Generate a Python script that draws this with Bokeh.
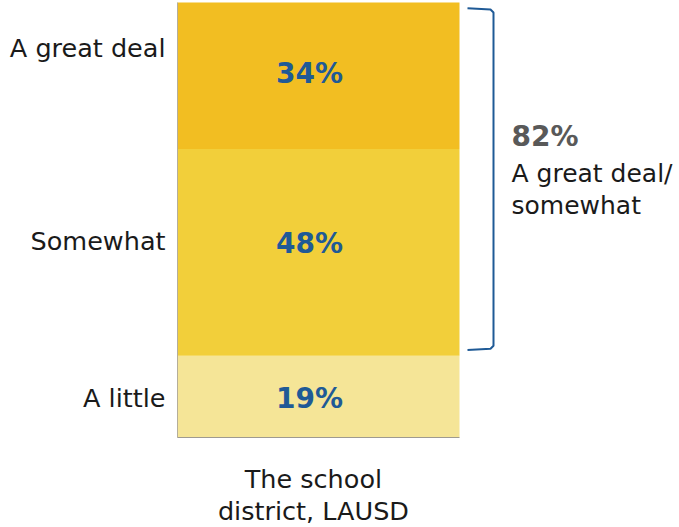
from bokeh.plotting import figure
from bokeh.models import Range1d, ColumnDataSource
from bokeh.embed import file_html
from bokeh.resources import INLINE
from bokeh.core.properties import value

# ---- data ----
categories = ["A great deal", "Somewhat", "A little"]
values = [34, 48, 19]
colors = ["#F2BE22", "#F2CF3A", "#F5E597"]
group_label = ["The school", "district, LAUSD"]
combined_value = "82%"
combined_label = ["A great deal/", "somewhat"]

FONT = "DejaVu Sans"
W, H = 679, 527
bar_left_px, bar_right_px = 177, 459
bar_top_px, bar_bottom_px = 2, 437

total = sum(values)
px_per_unit_y = (bar_bottom_px - bar_top_px) / total
px_per_unit_x = bar_right_px - bar_left_px

y0 = -(H - bar_bottom_px) / px_per_unit_y
y1 = total + bar_top_px / px_per_unit_y
x0 = -bar_left_px / px_per_unit_x
x1 = (W - bar_left_px) / px_per_unit_x

p = figure(width=W, height=H, output_backend="svg", toolbar_location=None,
           x_range=Range1d(x0, x1), y_range=Range1d(y0, y1),
           min_border=0, min_border_left=0, min_border_right=0,
           min_border_top=0, min_border_bottom=0)
p.axis.visible = False
p.grid.visible = False
p.outline_line_color = None
p.background_fill_color = "white"

# stack from bottom
order = list(reversed(range(len(values))))
bottoms, tops = [], []
acc = 0
for i in order:
    bottoms.append(acc)
    acc += values[i]
    tops.append(acc)
src = ColumnDataSource(dict(
    cat=[categories[i] for i in order],
    val=[values[i] for i in order],
    color=[colors[i] for i in order],
    bottom=bottoms, top=tops,
    mid=[(b + t) / 2 for b, t in zip(bottoms, tops)],
    lbl=[f"{values[i]}%" for i in order],
    voff=[2, -9, -2],
    coff=[1, -11, -28],
))
p.vbar(x=0.5, width=1.0, bottom="bottom", top="top", fill_color="color",
       line_color=None, source=src)

# faint axis lines
p.line([0, 0], [0, total], line_color="#B5AE9A", line_width=1)
p.line([0, 1], [0, 0], line_color="#9E9A90", line_width=1)

# value labels
p.text(x=0.468, y="mid", text="lbl", source=src, text_align="center",
       text_baseline="middle", text_font=value(FONT), text_font_style="bold",
       text_font_size="28px", text_color="#1F5A96", y_offset="voff")

# category labels (left)
p.text(x=-12 / px_per_unit_x, y="mid", text="cat", source=src,
       text_align="right", text_baseline="middle", text_font=value(FONT),
       text_font_size="25.5px", text_color="#1a1a1a", y_offset="coff")

# group label below
p.text(x=[0.482, 0.482], y=[-41 / px_per_unit_y, -73 / px_per_unit_y],
       text=group_label, text_align="center", text_baseline="middle",
       text_font=value(FONT), text_font_size="25.5px", text_color="#1a1a1a")

# bracket
top_b = tops[-1]
bot_b = bottoms[1]
inset = 7 / px_per_unit_y
bx0 = (467 - bar_left_px) / px_per_unit_x
bx1 = (493 - bar_left_px) / px_per_unit_x
r = 3 / px_per_unit_x
ry = 3 / px_per_unit_y
yt = top_b - inset
yb = bot_b + inset
p.line([bx0, bx1 - r, bx1, bx1, bx1 - r, bx0],
       [yt + 0.3, yt, yt - ry, yb + ry, yb, yb - 0.3],
       line_color="#1F5A96", line_width=2)

# combined label
tx = (511 - bar_left_px) / px_per_unit_x
p.text(x=[tx], y=[(bar_bottom_px - 136) / px_per_unit_y], text=[combined_value],
       text_align="left", text_baseline="middle", text_font=value(FONT),
       text_font_style="bold", text_font_size="28px", text_color="#595959")
p.text(x=[tx, tx], y=[(bar_bottom_px - 173) / px_per_unit_y,
                      (bar_bottom_px - 205) / px_per_unit_y],
       text=combined_label, text_align="left", text_baseline="middle",
       text_font=value(FONT), text_font_size="25px", text_color="#1a1a1a")

open("out.html", "w").write(file_html(p, INLINE))
